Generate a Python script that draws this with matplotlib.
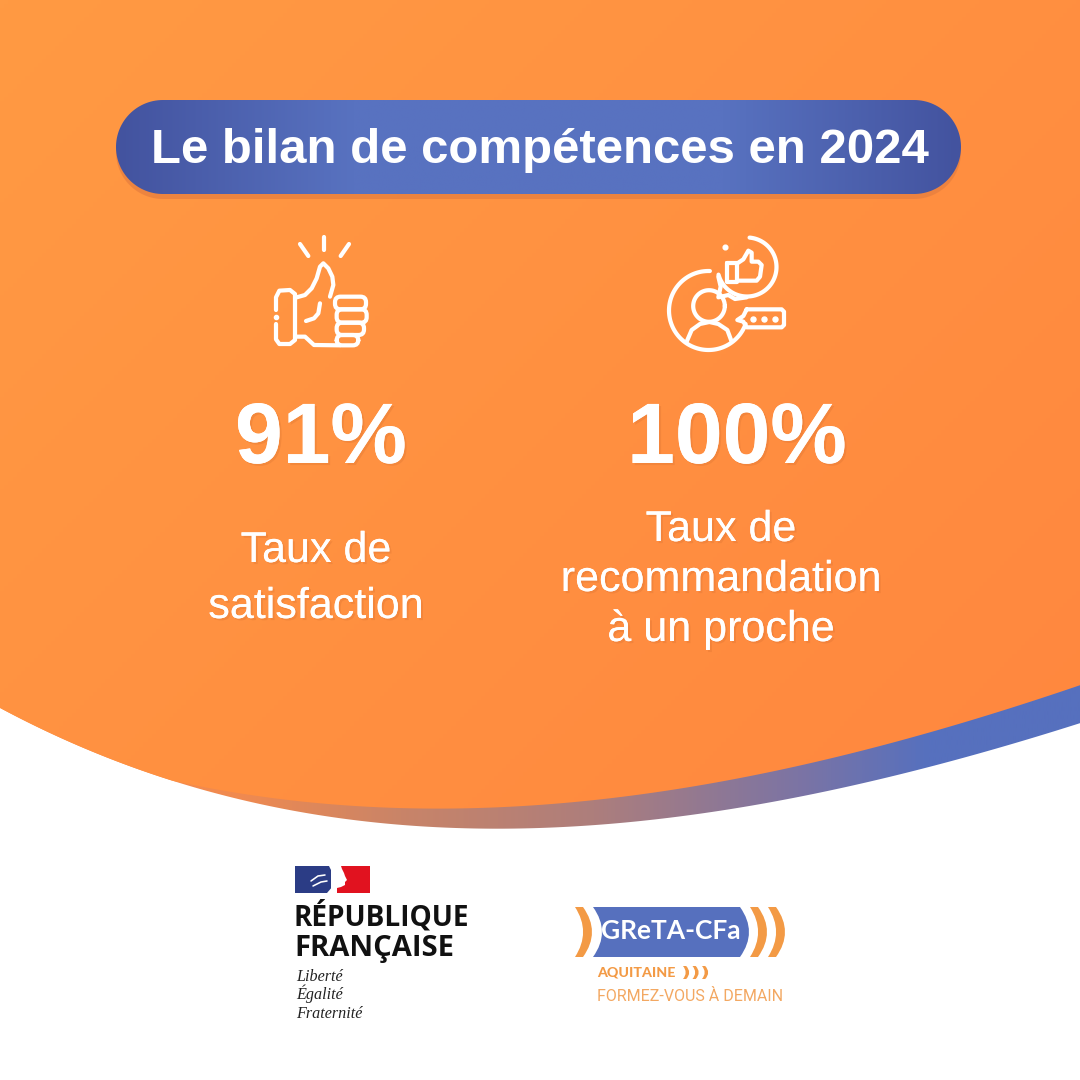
import numpy as np
import matplotlib
matplotlib.use("Agg")
import matplotlib.pyplot as plt
from matplotlib.patches import PathPatch, Rectangle, FancyBboxPatch, Polygon
from matplotlib.path import Path
from matplotlib.colors import LinearSegmentedColormap
import matplotlib.patheffects as pe

TITLE = "Le bilan de compétences en 2024"
PERCENTS = [91, 100]
CAPTIONS = [["Taux de", "satisfaction"], ["Taux de", "recommandation", "à un proche"]]
RF_LINES = ["RÉPUBLIQUE", "FRANÇAISE"]
MOTTO = ["Liberté", "Égalité", "Fraternité"]
GRETA_NAME = "GReTA-CFa"
GRETA_REGION = "AQUITAINE"
GRETA_SLOGAN = "FORMEZ-VOUS À DEMAIN"

ORANGE_A = "#FF9A43"
ORANGE_B = "#FF843E"
BLUE = "#5670BE"
BLUE_DARK = "#43539F"
BLUE_MID = "#5872C0"
LOGO_ORANGE = "#F39A45"
WHITE = "#FFFFFF"
SANS = "Liberation Sans"

fig = plt.figure(figsize=(10.8, 10.8), dpi=100, facecolor="white")
ax = fig.add_axes([0, 0, 1, 1])
ax.axis("off")


def lim():
    ax.set_xlim(0, 1080)
    ax.set_ylim(1080, 0)
    ax.set_aspect("auto")


lim()
xs = np.linspace(0, 1080, 500)
bx = [0, 100, 200, 300, 400, 480, 600, 700, 800, 1080]
by = [709, 752, 790, 813, 825, 829, 823, 813, 798, 723]
ox = [240, 300, 400, 440, 500, 600, 700, 800, 1080]
oy = [793, 801, 809, 810, 807, 797, 785, 767, 685]
edge_band = np.polyval(np.polyfit(bx, by, 4), xs)
edge_orange = np.minimum(np.polyval(np.polyfit(ox, oy, 3), xs), edge_band)

# band
band_pts = np.vstack([np.c_[xs, edge_orange - 1], np.c_[xs[::-1], edge_band[::-1]]])
band_poly = Polygon(band_pts, closed=True, fc="none", ec="none")
ax.add_patch(band_poly)
cm_band = LinearSegmentedColormap.from_list(
    "b", [(0, "#FF8A45"), (0.22, "#F08A50"), (0.37, "#C98468"), (0.55, "#AD7E7C"), (0.74, "#7C74A4"), (0.86, BLUE), (1, BLUE)])
im = ax.imshow(np.linspace(0, 1, 512)[None, :], extent=(0, 1080, 1080, 0), cmap=cm_band, zorder=1)
im.set_clip_path(band_poly)

# orange background
org_pts = np.vstack([[[0, 0]], np.c_[xs, edge_orange], [[1080, 0]]])
org_poly = Polygon(org_pts, closed=True, fc="none", ec="none")
ax.add_patch(org_poly)
cm_org = LinearSegmentedColormap.from_list("o", [ORANGE_A, ORANGE_B])
gx, gy = np.meshgrid(np.linspace(0, 1, 256), np.linspace(0, 1, 256))
im2 = ax.imshow((gx + gy) / 2, extent=(0, 1080, 1080, 0), cmap=cm_org, zorder=2)
im2.set_clip_path(org_poly)
lim()


# title pill
def pill_pts(x0, x1, y0, y1):
    r = (y1 - y0) / 2
    t = np.radians(np.linspace(-90, 90, 60))
    right = np.c_[x1 - r + r * np.cos(t), (y0 + y1) / 2 + r * np.sin(t)]
    left = np.c_[x0 + r - r * np.cos(t), (y0 + y1) / 2 - r * np.sin(t)]
    return np.vstack([right, left])


ax.add_patch(Polygon(pill_pts(116, 961, 105, 199), closed=True, fc="#E8803F", ec="none", alpha=0.8, zorder=3))
pill = Polygon(pill_pts(116, 961, 100, 194), closed=True, fc="none", ec="none", zorder=4)
ax.add_patch(pill)
cm_pill = LinearSegmentedColormap.from_list(
    "p", [(0, BLUE_DARK), (0.28, BLUE_MID), (0.72, BLUE_MID), (1, BLUE_DARK)])
im3 = ax.imshow(np.linspace(0, 1, 512)[None, :], extent=(116, 961, 194, 100), cmap=cm_pill, zorder=4)
im3.set_clip_path(pill)
lim()
ax.text(540, 163, TITLE, color=WHITE, fontsize=35.4, fontweight="bold", family=SANS,
        ha="center", va="baseline", zorder=5)

# percent + captions
shadow = [pe.withSimplePatchShadow(offset=(1.5, -1.5), shadow_rgbFace="#C9652A", alpha=0.22), pe.Normal()]
pct_x = [321, 737]
for v, cx in zip(PERCENTS, pct_x):
    ax.text(cx, 463, f"{v}%", color=WHITE, fontsize=61.8, fontweight="bold", family=SANS,
            ha="center", va="baseline", zorder=5, path_effects=shadow)
cap_x = [316, 721]
cap_y = [[562, 618], [541, 591, 641]]
for lines, cx, ys in zip(CAPTIONS, cap_x, cap_y):
    for s, y in zip(lines, ys):
        ax.text(cx, y, s, color=WHITE, fontsize=31, family=SANS, ha="center", va="baseline",
                zorder=5, path_effects=shadow)


# icons
def smooth(pts, lw=4.2, color=WHITE, z=6):
    pts = np.asarray(pts, float)
    ax.plot(pts[:, 0], pts[:, 1], color=color, lw=lw * 0.72, solid_capstyle="round",
            solid_joinstyle="round", zorder=z)


def z1(pts):
    return [(240 + a / 3, 220 + b / 3) for a, b in pts]


def z2(pts):
    return [(650 + a / 3, 220 + b / 3) for a, b in pts]


def rrect(x0, y0, x1, y1, r, z=6, lw=4.2):
    ax.add_patch(FancyBboxPatch((x0, y0), x1 - x0, y1 - y0, boxstyle=f"round,pad=0,rounding_size={r}",
                                fc="none", ec=WHITE, lw=lw * 0.72, zorder=z))


def arc(cx, cy, r, a0, a1, lw=4.2):
    t = np.radians(np.linspace(a0, a1, 90))
    smooth(np.c_[cx + r * np.cos(t), cy + r * np.sin(t)], lw=lw)


# thumb up icon
smooth(z1([(180, 72), (205, 108)]))
smooth(z1([(252, 50), (252, 90)]))
smooth(z1([(327, 72), (302, 108)]))
smooth(z1([(108, 270), (108, 232), (118, 212), (150, 210), (165, 222), (165, 360), (150, 372),
           (118, 372), (108, 358), (108, 312)]))
ax.plot(*z1([(108, 290)])[0], "o", color=WHITE, ms=3, zorder=6)
smooth(z1([(170, 232), (195, 225), (215, 205), (230, 175), (240, 140), (250, 130), (265, 145), (277, 170),
           (280, 195), (270, 230)]))
smooth(z1([(165, 350), (195, 350), (222, 375), (300, 376)]))
smooth(z1([(240, 250), (235, 280), (222, 295), (198, 303)]))
for a, b, c, d in [(285, 230, 378, 268), (290, 268, 380, 308), (290, 308, 372, 345), (290, 345, 355, 376)]:
    p0 = z1([(a, b)])[0]
    p1 = z1([(c, d)])[0]
    rrect(p0[0], p0[1], p1[0], p1[1], 5.5)

# people icon
arc(708.5, 310.5, 39.5, 20, 272)
arc(709, 306, 15.8, 0, 360)
smooth(z2([(110, 365), (125, 330), (150, 312), (178, 306), (205, 312), (232, 330), (245, 365)]))
arc(747, 267, 29.5, -85, 165)
smooth(z2([(205, 170), (212, 200), (205, 232), (235, 225), (255, 237), (290, 232)]))
ax.plot(*z2([(226, 82)])[0], "o", color=WHITE, ms=3.4, zorder=6)
smooth(z2([(232, 128), (262, 128), (262, 185), (232, 185), (232, 128)]))
smooth(z2([(262, 130), (280, 118), (295, 92), (305, 98), (305, 125), (325, 125), (335, 135), (330, 170),
           (320, 182), (262, 182)]))
smooth(z2([(290, 268), (395, 268), (402, 275), (402, 315), (395, 322), (290, 322), (280, 305),
           (262, 300), (280, 288), (290, 268)]))
for a in (310, 343, 375):
    ax.plot(*z2([(a, 298)])[0], "o", color=WHITE, ms=3.6, zorder=6)

# République française block
ax.add_patch(Rectangle((295, 866), 36, 27, fc="#2B3C85", ec="none", zorder=3))
ax.add_patch(Rectangle((337, 866), 32.5, 27, fc="#E1121F", ec="none", zorder=3))
ax.add_patch(Polygon([(329, 866), (341, 866), (342, 869), (344, 873), (345, 876), (347, 880), (345, 882), (345, 885), (341, 887), (337, 888),
                      (337, 893), (327, 893), (333, 886), (335, 878)], fc=WHITE, ec="none", zorder=4))
smooth([(311, 881), (318, 876), (325, 875)], lw=1.6, z=5)
smooth([(313, 886), (321, 882), (327, 881)], lw=1.6, z=5)
for s, y, fs in zip(RF_LINES, (926, 956), (20.2, 21.0)):
    ax.text(294, y, s, color="#111111", fontsize=fs, family="Open Sans", fontweight="bold",
            ha="left", va="baseline", zorder=5)
for s, y in zip(MOTTO, (981, 999, 1018)):
    ax.text(296, y, s, color="#222222", fontsize=11.6, family="Liberation Serif", style="italic",
            ha="left", va="baseline", zorder=5)


# GRETA block
def crescent(x0, bulge, w, y0, y1, color=LOGO_ORANGE, z=4):
    ym = (y0 + y1) / 2
    verts = [(x0, y0), (x0 + w, y0), (x0 + w + 2 * bulge, ym), (x0 + w, y1), (x0, y1), (x0 + 2 * bulge * 0.9, ym), (x0, y0), (x0, y0)]
    codes = [Path.MOVETO, Path.LINETO, Path.CURVE3, Path.CURVE3, Path.LINETO, Path.CURVE3, Path.CURVE3, Path.CLOSEPOLY]
    ax.add_patch(PathPatch(Path(verts, codes), fc=color, ec="none", zorder=z))


verts = [(593, 907), (740, 907), (758, 932), (740, 957), (593, 957), (611, 932), (593, 907), (593, 907)]
codes = [Path.MOVETO, Path.LINETO, Path.CURVE3, Path.CURVE3, Path.LINETO, Path.CURVE3, Path.CURVE3, Path.CLOSEPOLY]
ax.add_patch(PathPatch(Path(verts, codes), fc=BLUE, ec="none", zorder=3))
crescent(575, 9, 8, 907, 957)
crescent(750, 9, 8, 907, 957)
crescent(768, 9, 8, 907, 957)
ax.text(601, 939, GRETA_NAME, color=WHITE, fontsize=19, family="Lato", fontweight="bold",
        ha="left", va="baseline", zorder=5)
ax.text(597, 977, GRETA_REGION, color=LOGO_ORANGE, fontsize=10.2, family="Lato", fontweight="black",
        ha="left", va="baseline", zorder=5)
for xc in (683, 692.5, 702):
    crescent(xc, 3, 3.2, 966, 979)
ax.text(597, 1001, GRETA_SLOGAN, color="#F3A862", fontsize=11.5, family="Roboto",
        ha="left", va="baseline", zorder=5)

fig.savefig("out.png", dpi=100)
